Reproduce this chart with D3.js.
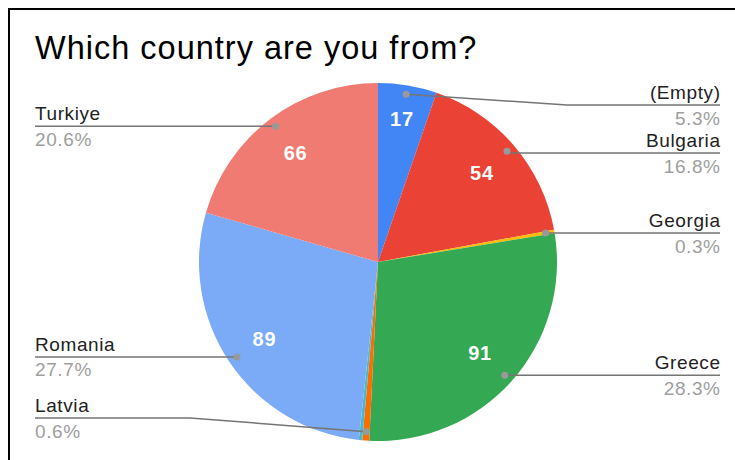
<!DOCTYPE html>
<html>
<head>
<meta charset="utf-8">
<script src="https://cdn.jsdelivr.net/npm/d3@7"></script>
<style>
  body { margin: 0; background: #fff; }
  svg { display: block; font-family: "Liberation Sans", Arial, sans-serif; }
</style>
</head>
<body>
<div id="chart"></div>
<script>
const title = "Which country are you from?";
const countries = ["(Empty)", "Bulgaria", "Georgia", "Greece", "Latvia", "(Unlabeled)", "Romania", "Turkiye"];
const counts = [17, 54, 1, 91, 2, 1, 89, 66];
const colors = ["#4285f4", "#ea4335", "#fbbc04", "#34a853", "#ff6d01", "#46bdc6", "#7baaf7", "#f07b72"];
const showLabel = [true, true, true, true, true, false, true, true];

const width = 735;
const height = 460;
const cx = 378, cy = 262, r = 179;

const svg = d3.select("#chart")
  .append("svg")
  .attr("width", width)
  .attr("height", height);

/* Frame */
svg.append("path")
  .attr("d", `M9,${height} V9 H${width}`)
  .attr("fill", "none")
  .attr("stroke", "#000")
  .attr("stroke-width", 2);

svg.append("text")
  .attr("x", 35)
  .attr("y", 59)
  .attr("font-size", 32.5)
  .attr("letter-spacing", 1)
  .attr("fill", "#000")
  .text(title);

const total = d3.sum(counts);
const data = countries.map((name, i) => ({ name, value: counts[i], color: colors[i], show: showLabel[i] }));

const pie = d3.pie().value((d) => d.value).sort(null);
const arcs = pie(data);
const arc = d3.arc().innerRadius(0).outerRadius(r);

const g = svg.append("g").attr("transform", `translate(${cx},${cy})`);

g.selectAll("path")
  .data(arcs)
  .join("path")
  .attr("d", arc)
  .attr("fill", (d) => d.data.color);

/* Value labels inside slices */
g.selectAll("text.val")
  .data(arcs.filter((d) => d.data.value >= 10))
  .join("text")
  .attr("class", "val")
  .attr("transform", (d) => {
    const a = (d.startAngle + d.endAngle) / 2;
    const lr = d.endAngle - d.startAngle < 0.4 ? r * 0.81 : r * 0.765;
    return `translate(${lr * Math.sin(a)},${-lr * Math.cos(a)})`;
  })
  .attr("text-anchor", "middle")
  .attr("dy", "0.36em")
  .attr("font-size", 20)
  .attr("letter-spacing", 0.8)
  .attr("font-weight", "bold")
  .attr("fill", "#fff")
  .text((d) => d.data.value);

/* Outside labels */
const dotR = r * 0.95;
const gap = 48, yMin = 105, yMax = 418;
const labels = arcs
  .filter((d) => d.data.show)
  .map((d) => {
    const a = (d.startAngle + d.endAngle) / 2;
    const px = cx + dotR * Math.sin(a);
    const py = cy - dotR * Math.cos(a);
    return { d, a, px, py, right: Math.sin(a) >= 0, y: Math.max(yMin, Math.min(yMax, py)) };
  });

function spread(list) {
  list.sort((a, b) => a.y - b.y);
  for (let i = 1; i < list.length; i++) {
    if (list[i].y < list[i - 1].y + gap) list[i].y = list[i - 1].y + gap;
  }
  for (let i = list.length - 1; i >= 0; i--) {
    if (list[i].y > yMax) list[i].y = yMax;
    if (i < list.length - 1 && list[i].y > list[i + 1].y - gap) list[i].y = list[i + 1].y - gap;
  }
}
spread(labels.filter((l) => l.right));
spread(labels.filter((l) => !l.right));

const fmt = d3.format(".1%");
const lab = svg.append("g");

labels.forEach((l) => {
  const edgeX = l.right ? cx + r + 10 : cx - r - 9;
  const endX = l.right ? 720 : 35;
  const pts = Math.abs(l.y - l.py) > 3
    ? [[l.px, l.py], [edgeX, l.y], [endX, l.y]]
    : [[l.px, l.y], [endX, l.y]];

  lab.append("path")
    .attr("d", d3.line()(pts))
    .attr("fill", "none")
    .attr("stroke", "#757575")
    .attr("stroke-width", 1.5);

  lab.append("circle")
    .attr("cx", l.px)
    .attr("cy", l.py)
    .attr("r", 3.5)
    .attr("fill", "#999");

  const anchor = l.right ? "end" : "start";
  const shift = l.right ? 0.6 : 0;
  lab.append("text")
    .attr("x", endX + shift)
    .attr("y", l.y - 6)
    .attr("text-anchor", anchor)
    .attr("font-size", 19)
    .attr("letter-spacing", 0.6)
    .attr("fill", "#222")
    .text(l.d.data.name);

  lab.append("text")
    .attr("x", endX + shift)
    .attr("y", l.y + 19.5)
    .attr("text-anchor", anchor)
    .attr("font-size", 19)
    .attr("letter-spacing", 0.6)
    .attr("fill", "#9e9e9e")
    .text(fmt(l.d.data.value / total));
});
</script>
</body>
</html>
